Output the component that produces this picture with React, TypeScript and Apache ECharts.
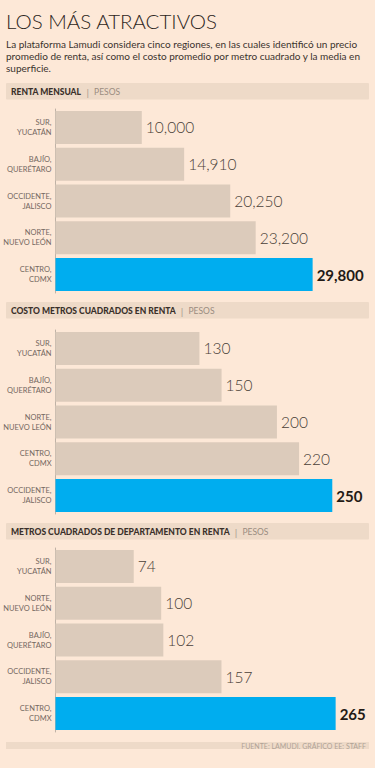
import React, { useEffect, useRef } from "react";
import * as echarts from "echarts";

const titleText = "LOS MÁS ATRACTIVOS";
const descLines = [
  "La plataforma Lamudi considera cinco regiones, en las cuales identificó un precio",
  "promedio de renta, así como el costo promedio por metro cuadrado y la media en",
  "superficie.",
];
const sectionTitles = [
  "RENTA MENSUAL",
  "COSTO METROS CUADRADOS EN RENTA",
  "METROS CUADRADOS DE DEPARTAMENTO EN RENTA",
];
const unitLabel = "PESOS";
const sourceText = "FUENTE: LAMUDI. GRÁFICO EE: STAFF";

const rentaCats = ["SUR,\nYUCATÁN", "BAJÍO,\nQUERÉTARO", "OCCIDENTE,\nJALISCO", "NORTE,\nNUEVO LEÓN", "CENTRO,\nCDMX"];
const rentaValues = [10000, 14910, 20250, 23200, 29800];

const costoCats = ["SUR,\nYUCATÁN", "BAJÍO,\nQUERÉTARO", "NORTE,\nNUEVO LEÓN", "CENTRO,\nCDMX", "OCCIDENTE,\nJALISCO"];
const costoValues = [130, 150, 200, 220, 250];

const metrosCats = ["SUR,\nYUCATÁN", "NORTE,\nNUEVO LEÓN", "BAJÍO,\nQUERÉTARO", "OCCIDENTE,\nJALISCO", "CENTRO,\nCDMX"];
const metrosValues = [74, 100, 102, 157, 265];

const BG = "#fde8d7";
const BAR = "#dccbbb";
const BLUE = "#00adef";
const HEAD = "#eedac8";
const FONT = "Lato, 'Open Sans', sans-serif";

export default function App() {
  const ref = useRef<HTMLDivElement>(null);
  useEffect(() => {
    document.body.style.margin = "0";
    if (!ref.current) return;
    const chart = echarts.init(ref.current, null, { renderer: "svg" });

    const datasets = [
      { cats: rentaCats, vals: rentaValues, top: 109, max: 35000, width: 302 },
      { cats: costoCats, vals: costoValues, top: 330, max: 280, width: 310 },
      { cats: metrosCats, vals: metrosValues, top: 548, max: 280, width: 296 },
    ];
    const headerTops = [83, 302, 523];

    const grids = datasets.map((d) => ({ left: 55.5, top: d.top, width: d.width, height: 184 }));
    const xAxes = datasets.map((d, i) => ({
      type: "value",
      gridIndex: i,
      min: 0,
      max: d.max,
      show: false,
    }));
    const yAxes = datasets.map((d, i) => ({
      type: "category",
      gridIndex: i,
      data: d.cats,
      inverse: true,
      axisLine: { show: true, lineStyle: { color: "#bfb2a6", width: 1 } },
      axisTick: { show: false },
      axisLabel: {
        color: "#74675f",
        fontSize: 7.5,
        fontFamily: FONT,
        lineHeight: 10,
        margin: 4,
        align: "right",
      },
    }));
    const series = datasets.map((d, i) => ({
      type: "bar",
      xAxisIndex: i,
      yAxisIndex: i,
      barWidth: 33,
      data: d.vals.map((v, j) => {
        const hi = j === d.vals.length - 1;
        return {
          value: v,
          itemStyle: { color: hi ? BLUE : BAR },
          label: hi
            ? { fontWeight: "bold", color: "#231a15", fontSize: 15 }
            : { fontWeight: 300, color: "#4a3f38", fontSize: 15.5 },
        };
      }),
      label: {
        show: true,
        position: "right",
        distance: 4,
        fontFamily: FONT,
        formatter: (p: any) => Number(p.value).toLocaleString("en-US"),
      },
    }));

    const graphic: any[] = [
      {
        type: "text",
        left: 6,
        top: 10,
        style: { text: titleText, fontSize: 20.5, fontWeight: 300, fontFamily: FONT, fill: "#2d2622" },
      },
      ...descLines.map((t, i) => ({
        type: "text",
        left: 6,
        top: 39 + i * 12.2,
        style: { text: t, fontSize: 10, fontFamily: FONT, fill: "#3a322d" },
      })),
      ...headerTops.map((y) => ({
        type: "rect",
        shape: { x: 6, y, width: 363, height: 16.5, r: 1 },
        style: { fill: HEAD },
      })),
      ...headerTops.map((y, i) => ({
        type: "text",
        x: 11,
        y: y + 8.5,
        style: {
          text: `{b|${sectionTitles[i]}}{s|  |  }{u|${unitLabel}}`,
          verticalAlign: "middle",
          rich: {
            b: { fontSize: 8.5, fontWeight: 900, fontFamily: FONT, fill: "#3a302a" },
            s: { fontSize: 10, fontFamily: FONT, fill: "#a89a8e" },
            u: { fontSize: 8.5, fontFamily: FONT, fill: "#9a8c80" },
          },
        },
      })),
      {
        type: "rect",
        shape: { x: 6, y: 742, width: 363, height: 7 },
        style: { fill: HEAD },
      },
      {
        type: "text",
        x: 366,
        y: 745.5,
        style: {
          text: sourceText,
          align: "right",
          verticalAlign: "middle",
          fontSize: 7,
          fontFamily: FONT,
          fill: "#b0a296",
        },
      },
    ];

    chart.setOption({
      animation: false,
      backgroundColor: BG,
      grid: grids,
      xAxis: xAxes,
      yAxis: yAxes,
      series,
      graphic,
    });
    return () => chart.dispose();
  }, []);
  return <div ref={ref} style={{ width: 375, height: 768 }} />;
}
